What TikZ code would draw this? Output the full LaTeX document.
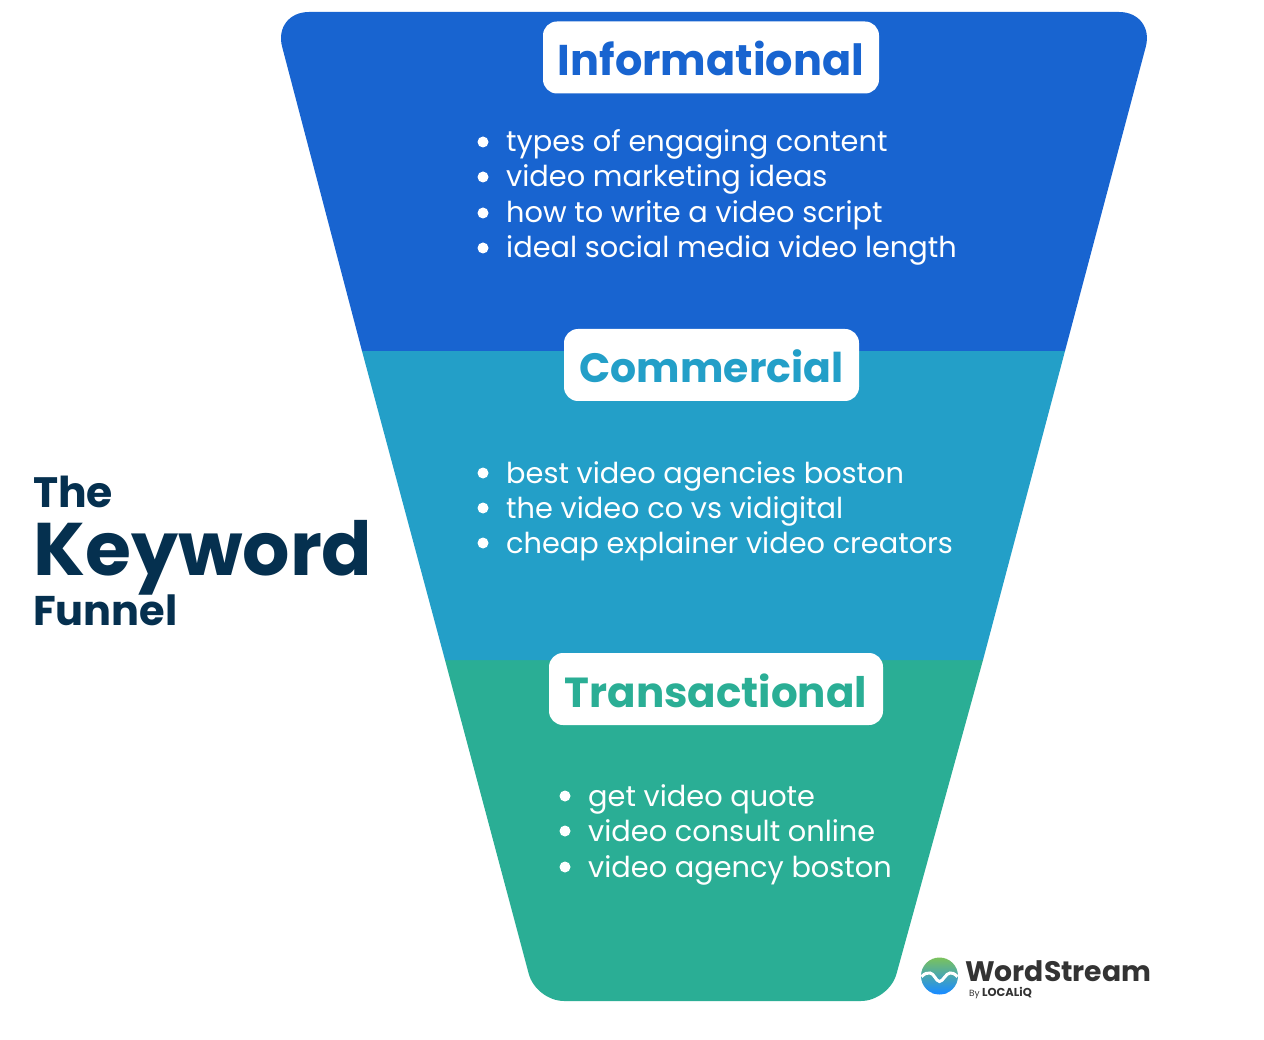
\documentclass[tikz,border=0pt]{standalone}
\usepackage{fontspec}
\setmainfont{Poppins}
\newfontfamily\headf{Poppins}[BoldFont={Poppins Bold}]
\newfontfamily\titlef{Poppins}[BoldFont={Poppins Bold}]
\usetikzlibrary{calc}
\definecolor{cblue}{HTML}{1864D0}
\definecolor{cteal}{HTML}{239FC8}
\definecolor{cgreen}{HTML}{2AAE95}
\definecolor{cnavy}{HTML}{05304F}
\definecolor{clogo}{HTML}{333333}
\definecolor{lgreen}{HTML}{7CC35A}
\definecolor{lblue}{HTML}{1A8CFF}
\tikzset{
  x=1pt,y=-1pt,
  headbox/.style={fill=white,rounded corners=14pt,inner sep=0pt,minimum height=72pt},
  headtxt/.style={inner sep=0pt,anchor=base,font=\headf\bfseries},
  item/.style={inner sep=0pt,anchor=base west,text=white,font=\fontsize{28.8}{28.8}\selectfont},
  bullet/.style={circle,fill=white,inner sep=0pt,minimum size=11pt},
  title/.style={inner sep=0pt,anchor=base west,text=cnavy,font=\titlef\bfseries},
}
\begin{document}
\begin{tikzpicture}
\useasboundingbox (0,0) rectangle (1264,1040);
\fill[white] (0,0) rectangle (1264,1040);
% funnel bands
\path[fill=cgreen] (445,660) -- (983,660) [rounded corners=28pt] -- (889,1001) -- (536,1001) [sharp corners] -- cycle;
\fill[cteal] (362,351) -- (1065,351) -- (983,660) -- (445,660) -- cycle;
\path[fill=cblue] (362,351) [rounded corners=36pt] -- (273,12) -- (1155,12) [sharp corners] -- (1065,351) -- cycle;
% heading boxes
\node[headbox,minimum width=336pt] (b1) at (711,57.5) {};
\node[headbox,minimum width=295pt] (b2) at (711.5,365) {};
\node[headbox,minimum width=334pt] (b3) at (716,689) {};
\node[headtxt,text=cblue,font=\headf\bfseries\fontsize{43}{43}\selectfont] (h1) at (711,76) {Informational};
\node[headtxt,text=cteal,font=\headf\bfseries\fontsize{41}{41}\selectfont] (h2) at (711.5,383) {Commercial};
\node[headtxt,text=cgreen,font=\headf\bfseries\fontsize{42}{42}\selectfont] (h3) at (716,707) {Transactional};
% lists
\foreach \n/\y/\t in {a/152/types of engaging content,b/187/video marketing ideas,c/223/how to write a video script,d/258/ideal social media video length,
  e/483/best video agencies boston,f/518/the video co vs vidigital,g/553/cheap explainer video creators}{
  \node[item] (t\n) at (506,\y) {\t};
  \node[bullet] (u\n) at (483,\y-10) {};
}
\foreach \n/\y/\t in {h/806/get video quote,i/841/video consult online,j/877/video agency boston}{
  \node[item] (t\n) at (588,\y) {\t};
  \node[bullet] (u\n) at (565,\y-10) {};
}
% title
\node[title,font=\titlef\bfseries\fontsize{42.5}{42.5}\selectfont] (the) at (33,507) {The};
\node[title,font=\titlef\bfseries\fontsize{74.5}{74.5}\selectfont] (kw) at (33,575) {Keyword};
\node[title,font=\titlef\bfseries\fontsize{41.5}{41.5}\selectfont] (fu) at (33,625) {Funnel};
% logo
\begin{scope}
\clip (939.5,976) circle (18.5pt);
\shade[top color=lgreen,bottom color=lblue] (920,957) rectangle (959,993);
\fill[lblue] (920,992.9) rectangle (959,996);
\end{scope}
\draw[white,line width=3pt] (921.5,976.7) .. controls (925,973) and (927,973) .. (930,973) .. controls (934,973) and (936,981.5) .. (939.5,981.5) .. controls (943,981.5) and (946,973) .. (950,973) .. controls (952,973) and (954,973) .. (957.5,976.7);
\node[inner sep=0pt,anchor=base west,text=clogo,font=\titlef\bfseries\fontsize{28.2}{28.2}\selectfont] (ws) at (965,981) {WordStream};
\node[inner sep=0pt,anchor=base west,text=clogo,font=\titlef\fontsize{9}{9}\selectfont] (by) at (969,996) {By};
\node[inner sep=0pt,anchor=base west,text=clogo,font=\titlef\bfseries\fontsize{11.5}{11.5}\selectfont] (lq) at (982,996) {LOCALiQ};
\end{tikzpicture}
\end{document}
